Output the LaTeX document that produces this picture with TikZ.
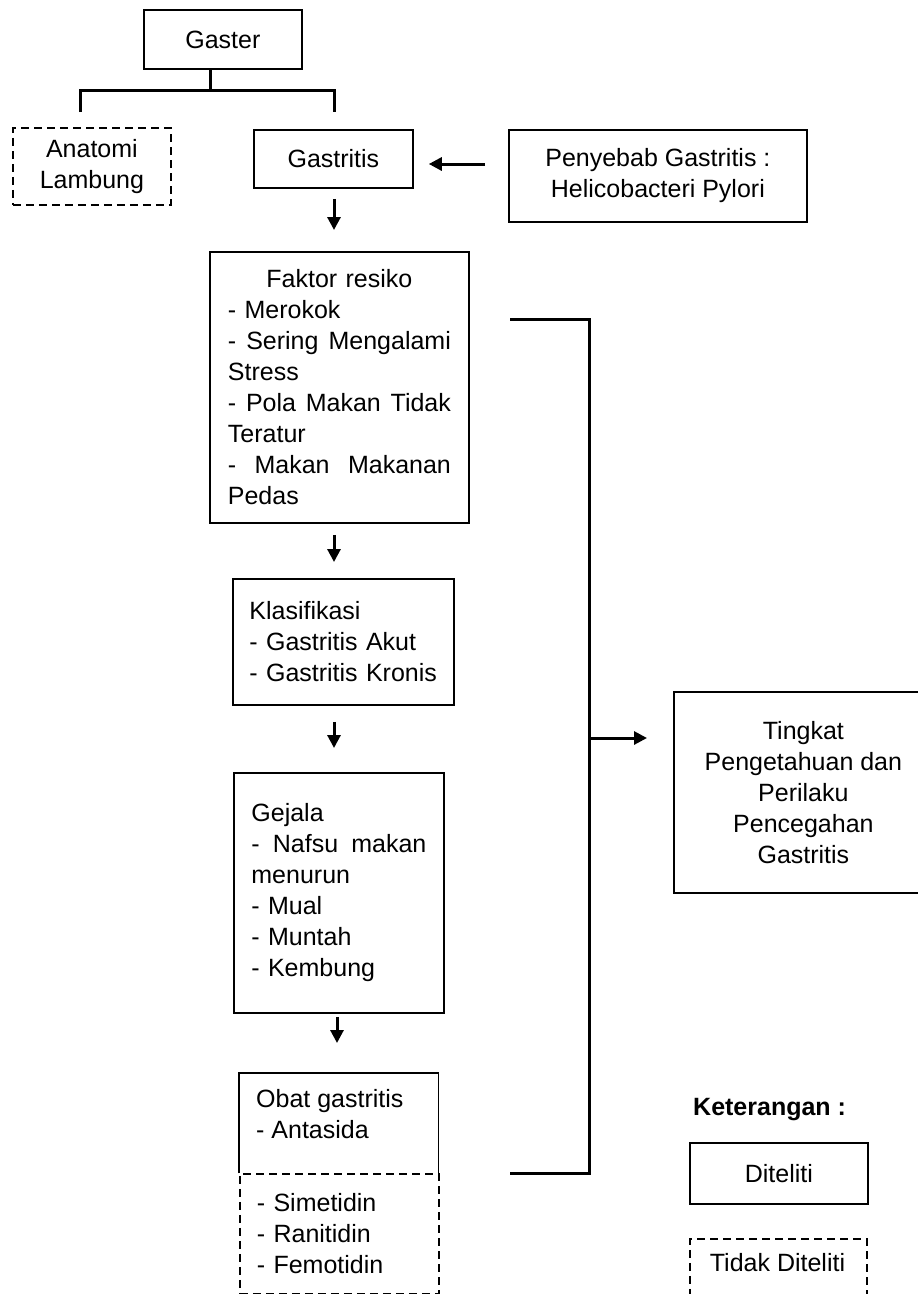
\documentclass[tikz,border=0pt]{standalone}
\usepackage{fontspec}
\setmainfont{Liberation Sans}
\usetikzlibrary{arrows.meta}
\tikzset{
  box/.style={draw, line width=1.8pt, anchor=north west, inner sep=0pt,
    font=\fontsize{25}{31}\selectfont, align=center},
  dbox/.style={box, dash pattern=on 8pt off 5pt},
  plain/.style={inner sep=0pt, font=\fontsize{25}{31}\selectfont},
  conn/.style={line width=3pt},
  arr/.style={line width=3pt, -{Triangle[length=13pt,width=13pt]}},
}
\newcommand{\jline}[1]{\leavevmode\hbox to \hsize{#1}}
\hyphenpenalty=10000
\exhyphenpenalty=10000
\begin{document}
\begin{tikzpicture}[x=1pt,y=-1pt]
\clip (0,0) rectangle (918,1294);
\useasboundingbox (0,0) rectangle (918,1294);

% boxes
\node[box, minimum width=158pt, minimum height=59pt] (gaster) at (143,9) {Gaster};
\node[dbox, minimum width=158pt, minimum height=77pt] (anat) at (12,127) {Anatomi\\Lambung};
\node[box, minimum width=159pt, minimum height=58pt] (gastritis) at (253,129) {Gastritis};
\node[box, minimum width=298pt, minimum height=92pt] (peny) at (508,129) {Penyebab Gastritis :\\Helicobacteri Pylori};
\node[box, minimum width=259pt, minimum height=271pt, text width=223pt, align=left] (faktor) at (209,251)
  {\jline{\hfil Faktor resiko\hfil}\\
   - Merokok\\
   \jline{- \hfill Sering \hfill Mengalami}\\
   Stress\\
   \jline{- \hfill Pola \hfill Makan \hfill Tidak}\\
   Teratur\\
   \jline{- \hfill Makan \hfill Makanan}\\
   Pedas};
\node[box, minimum width=221pt, minimum height=126pt, text width=188pt, align=left] (klas) at (232,578)
  {Klasifikasi\\- Gastritis Akut\\- Gastritis Kronis};
\node[box, minimum width=210pt, minimum height=240pt, text width=175pt, align=left] (gejala) at (233,772)
  {Gejala\\\jline{- \hfill Nafsu \hfill makan}\\menurun\\- Mual\\- Muntah\\- Kembung};
\node[anchor=north west, inner sep=0pt, minimum width=199pt, minimum height=100pt] (obat) at (239,1073) {};
\draw[line width=1.8pt] (obat.south west) -- (obat.north west) -- (obat.north east) -- (obat.south east);
\node[plain, anchor=north west, align=left] (obatT) at (256,1089) {Obat gastritis\\- Antasida};
\node[dbox, minimum width=199pt, minimum height=120pt, text width=165pt, align=left] (obatd) at (239,1173)
  {- Simetidin\\- Ranitidin\\- Femotidin};
\node[box, minimum width=259pt, minimum height=201pt] (ting) at (673,691)
  {Tingkat\\Pengetahuan dan\\Perilaku\\Pencegahan\\Gastritis};

% legend
\node[plain, anchor=base west, font=\fontsize{25}{31}\selectfont\bfseries] (ket) at (693,1115) {Keterangan :};
\node[box, minimum width=178pt, minimum height=61pt] (dit) at (689,1142) {Diteliti};
\node[dbox, minimum width=177pt, minimum height=90pt] (tdit) at (689,1238) {};
\node[plain, anchor=base] (tditT) at (777.5,1271) {Tidak Diteliti};

% tree from Gaster
\coordinate (j) at (210,90);
\coordinate (lA) at (80,112);
\coordinate (lG) at (334,112);
\draw[conn] (gaster.south -| j) -- (j);
\draw[conn] (lA) |- (j) -| (lG);

% arrows
\coordinate (ay) at (0,164);
\coordinate (ax) at (334,0);
\coordinate (ax2) at (337,0);
\draw[arr, shorten <=23pt, shorten >=15pt] (peny.west |- ay) -- (gastritis.east |- ay);
\draw[arr, shorten <=10pt, shorten >=21pt] (gastritis.south -| ax) -- (faktor.north -| ax);
\draw[arr, shorten <=11pt, shorten >=16pt] (faktor.south -| ax) -- (klas.north -| ax);
\draw[arr, shorten <=16pt, shorten >=24pt] (klas.south -| ax) -- (gejala.north -| ax);
\draw[arr, shorten <=3pt, shorten >=30pt] (gejala.south -| ax2) -- (obat.north -| ax2);

% bracket
\coordinate (bt) at (510,319);
\coordinate (bb) at (510,1173);
\coordinate (bm) at (589,738);
\draw[conn] (bt) -| (bm) |- (bb);
\draw[arr, shorten >=26pt] (bm) -- (ting.west |- bm);
\end{tikzpicture}
\end{document}
